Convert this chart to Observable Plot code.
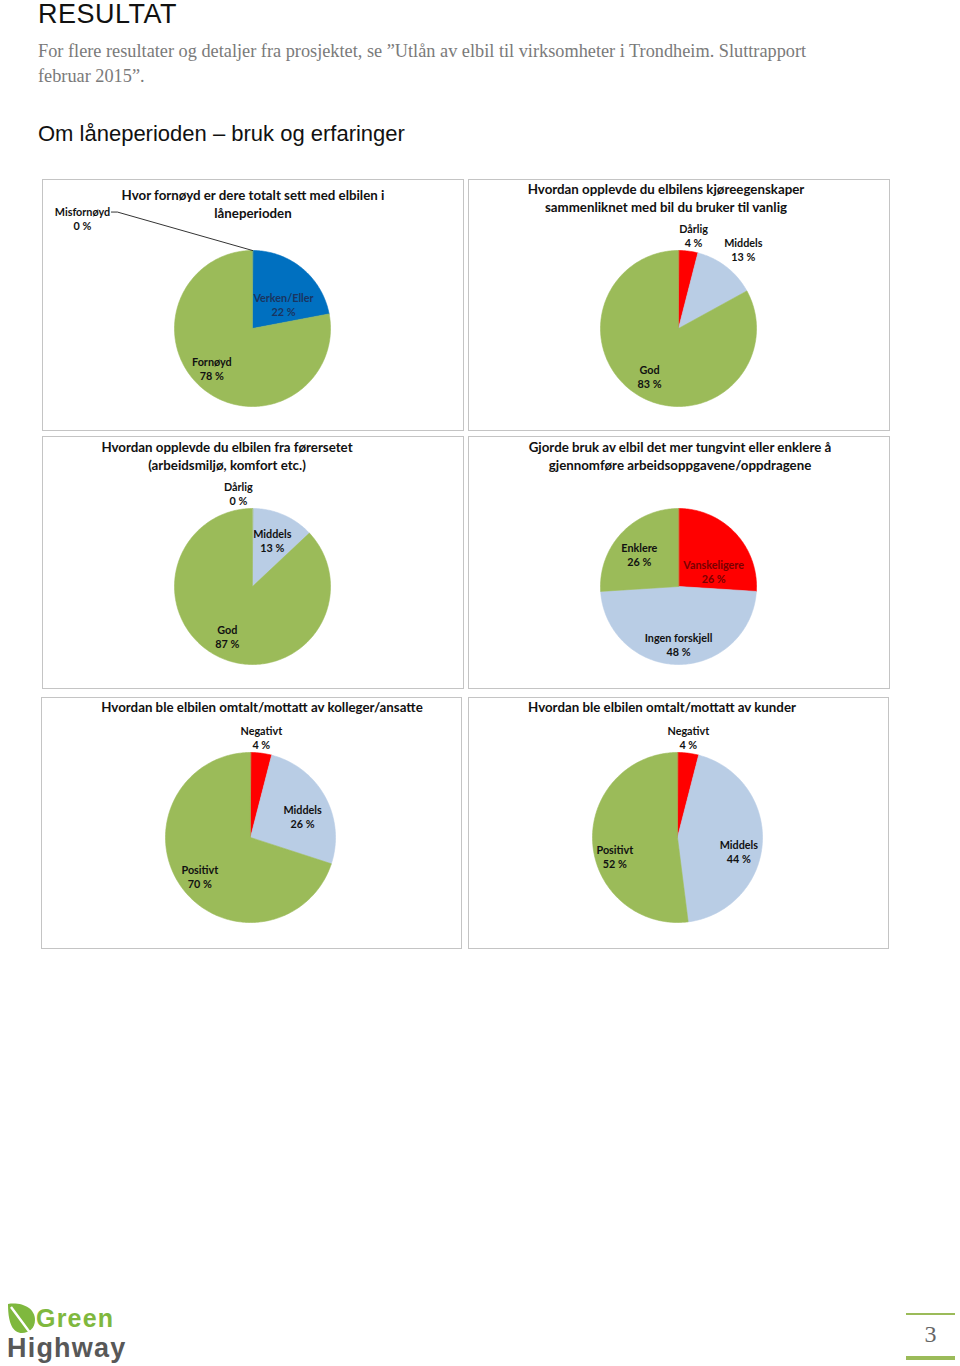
<!DOCTYPE html>
<html><head><meta charset="utf-8">
<script src="https://cdn.jsdelivr.net/npm/d3@7"></script>
<script src="https://cdn.jsdelivr.net/npm/@observablehq/plot@0.6"></script>
<style>
body{margin:0;background:#fff;}
#page{position:relative;width:960px;height:1366px;overflow:hidden;background:#fff;}
.abs{position:absolute;white-space:nowrap;}
.panel{position:absolute;border:1.5px solid #c4c4c4;box-sizing:border-box;}
.plotwrap{position:absolute;}
.ctitle{position:absolute;font-family:Lato,sans-serif;font-weight:700;font-size:13.3px;line-height:17.5px;color:#111;text-align:center;white-space:pre-line;width:460px;}
</style></head><body><div id="page"></div>
<script>
// ---------- DATA ----------
const pageTitle = "RESULTAT";
const introText = "For flere resultater og detaljer fra prosjektet, se ”Utlån av elbil til virksomheter i Trondheim. Sluttrapport\nfebruar 2015”.";
const sectionTitle = "Om låneperioden – bruk og erfaringer";
const pageNumber = "3";

const chartTitles = [
  "Hvor fornøyd er dere totalt sett med elbilen i\nlåneperioden",
  "Hvordan opplevde du elbilens kjøreegenskaper\nsammenliknet med bil du bruker til vanlig",
  "Hvordan opplevde du elbilen fra førersetet\n(arbeidsmiljø, komfort etc.)",
  "Gjorde bruk av elbil det mer tungvint eller enklere å\ngjennomføre arbeidsoppgavene/oppdragene",
  "Hvordan ble elbilen omtalt/mottatt av kolleger/ansatte",
  "Hvordan ble elbilen omtalt/mottatt av kunder"
];

const chart1Categories = ["Misfornøyd", "Verken/Eller", "Fornøyd"];
const chart1Values = [0, 22, 78];
const chart2Categories = ["Dårlig", "Middels", "God"];
const chart2Values = [4, 13, 83];
const chart3Categories = ["Dårlig", "Middels", "God"];
const chart3Values = [0, 13, 87];
const chart4Categories = ["Vanskeligere", "Ingen forskjell", "Enklere"];
const chart4Values = [26, 48, 26];
const chart5Categories = ["Negativt", "Middels", "Positivt"];
const chart5Values = [4, 26, 70];
const chart6Categories = ["Negativt", "Middels", "Positivt"];
const chart6Values = [4, 44, 52];

// ---------- STYLES / LAYOUT ----------
const sliceColor = {
  "Misfornøyd": "#ff0000", "Verken/Eller": "#0070c0", "Fornøyd": "#9bbb59",
  "Dårlig": "#ff0000", "Middels": "#b9cde5", "God": "#9bbb59",
  "Vanskeligere": "#ff0000", "Ingen forskjell": "#b9cde5", "Enklere": "#9bbb59",
  "Negativt": "#ff0000", "Positivt": "#9bbb59"
};
const labelColor = {"Verken/Eller": "#1a3561", "Vanskeligere": "#7a0000"};

// panel boxes [left, top, right, bottom], pie centre / radius, title anchor, label polar layout
const layouts = [
  {box:[42,179,464,431], cx:252, cy:328, r:78, title:[253,196], rho:[2.6,0.5,0.73], nudge:[-57,13,6], leader:[true,false,false]},
  {box:[468,179,890,431], cx:678, cy:328, r:78, title:[666,190], rho:[1.21,1.31,0.72], nudge:[2,1.6,0.4], leader:[false,false,false]},
  {box:[42,436,464,689], cx:252, cy:586, r:78, title:[227,448], rho:[1.21,0.64,0.72], nudge:[-8.6,0,3.2], leader:[false,false,false]},
  {box:[468,436,890,689], cx:678, cy:586, r:78, title:[680,448], rho:[0.49,0.74,0.65], nudge:[20,0,-3.8], leader:[false,false,false]},
  {box:[41,697,462,949], cx:250, cy:837, r:85, title:[262,708], rho:[1.18,0.66,0.75], nudge:[-1,7,-1.4], leader:[false,false,false]},
  {box:[468,697,889,949], cx:677, cy:837, r:85, title:[662,708], rho:[1.18,0.74,0.77], nudge:[-1,9.3,-13.2], leader:[false,false,false]}
];
const chartData = [
  [chart1Categories, chart1Values], [chart2Categories, chart2Values], [chart3Categories, chart3Values],
  [chart4Categories, chart4Values], [chart5Categories, chart5Values], [chart6Categories, chart6Values]
];

const page = document.getElementById("page");
function addDiv(css, text, cls) {
  const d = document.createElement("div");
  d.className = cls || "abs";
  d.style.cssText = css;
  if (text != null) d.textContent = text;
  page.appendChild(d);
  return d;
}

// header texts
addDiv("left:38px;top:1px;font-family:'Liberation Sans',Arial,sans-serif;font-size:27px;line-height:27px;letter-spacing:0.5px;color:#111;", pageTitle);
addDiv("left:38px;top:39px;font-family:'Liberation Serif','Times New Roman',serif;font-size:18.3px;line-height:25px;color:#7a7a7a;white-space:pre-line;", introText);
addDiv("left:38px;top:121px;font-family:'Liberation Sans',Arial,sans-serif;font-size:22px;line-height:26px;color:#111;", sectionTitle);

function piePlot(cats, vals, lay) {
  const [L, T, R, B] = lay.box;
  const W = R - L, H = B - T, r = lay.r;
  const ccx = lay.cx - L, ccy = lay.cy - T;
  const total = d3.sum(vals);
  const ends = Array.from(d3.cumsum(vals));
  const slices = cats.map((c, i) => ({cat: c, value: vals[i], a0: (ends[i] - vals[i]) / total * 360, a1: ends[i] / total * 360}));
  const pts = [];
  for (const s of slices) {
    if (s.value <= 0) continue;
    pts.push({cat: s.cat, x: 0, y: 0});
    const n = Math.max(2, Math.ceil(s.a1 - s.a0));
    for (let k = 0; k <= n; k++) {
      const a = (s.a0 + (s.a1 - s.a0) * k / n) * Math.PI / 180;
      pts.push({cat: s.cat, x: Math.sin(a), y: Math.cos(a)});
    }
  }
  const labels = slices.map((s, i) => {
    const a = ((s.a0 + s.a1) / 2 + lay.nudge[i]) * Math.PI / 180;
    return {cat: s.cat, text: `${s.cat}\n${s.value} %`, x: lay.rho[i] * Math.sin(a), y: lay.rho[i] * Math.cos(a), a0: s.a0, leader: lay.leader[i]};
  });
  const leaders = [];
  labels.forEach((l, i) => {
    if (!l.leader) return;
    const sx = l.x + 29 / r, sy = l.y + 6 / r;
    const a = l.a0 * Math.PI / 180;
    leaders.push({id: i, x: sx, y: sy}, {id: i, x: sx + 6 / r, y: sy}, {id: i, x: Math.sin(a), y: Math.cos(a)});
  });
  return Plot.plot({
    width: W, height: H, margin: 0,
    x: {domain: [-ccx / r, (W - ccx) / r], axis: null},
    y: {domain: [-(H - ccy) / r, ccy / r], axis: null},
    color: {type: "identity"},
    style: {background: "transparent", fontFamily: "Lato, sans-serif", overflow: "visible"},
    marks: [
      Plot.line(pts, {x: "x", y: "y", z: "cat", fill: d => sliceColor[d.cat], stroke: d => sliceColor[d.cat], strokeWidth: 0.6, curve: "linear-closed"}),
      Plot.line(leaders, {x: "x", y: "y", z: "id", stroke: "#000", strokeWidth: 0.8}),
      Plot.text(labels, {x: "x", y: "y", text: "text", fill: d => labelColor[d.cat] || "#111", fontSize: 10.8, fontWeight: "bold", lineHeight: 1.3})
    ]
  });
}

layouts.forEach((lay, i) => {
  const [L, T, R, B] = lay.box;
  addDiv(`left:${L}px;top:${T}px;width:${R - L}px;height:${B - T}px;`, null, "panel");
  const wrap = addDiv(`left:${L}px;top:${T}px;width:${R - L}px;height:${B - T}px;`, null, "plotwrap");
  wrap.appendChild(piePlot(chartData[i][0], chartData[i][1], lay));
  addDiv(`left:${lay.title[0] - 230}px;top:${lay.title[1] - 8.75}px;`, chartTitles[i], "ctitle");
});

// footer: logo + page number
const logo = addDiv("left:5px;top:1300px;width:140px;height:66px;", null, "abs");
logo.innerHTML = `<svg width="34" height="34" style="position:absolute;left:1px;top:2px" viewBox="0 0 34 34">
<path d="M2,2 C16,0 29,6 29,18 C29,26 23,31 16,31 C7,31 2,22 2,2 Z" fill="#7fb83e"/>
<path d="M5,5 L22,28 L26,33" stroke="#fff" stroke-width="2.4" fill="none"/>
</svg>
<div style="position:absolute;left:31px;top:4px;font-family:'Liberation Sans',Arial,sans-serif;font-weight:700;font-size:25px;line-height:28px;color:#7fb83e;letter-spacing:1.2px">Green</div>
<div style="position:absolute;left:2px;top:33px;font-family:'Liberation Sans',Arial,sans-serif;font-weight:700;font-size:27px;line-height:30px;color:#585858;letter-spacing:1.2px">Highway</div>`;
addDiv("left:906px;top:1313px;width:49px;height:2px;background:#9bbb59;", null, "abs");
addDiv("left:906px;top:1356px;width:49px;height:4px;background:#9bbb59;", null, "abs");
addDiv("left:906px;top:1319px;width:49px;text-align:center;font-family:'Liberation Serif',serif;font-size:24px;line-height:30px;color:#666;", pageNumber);
</script></body></html>
